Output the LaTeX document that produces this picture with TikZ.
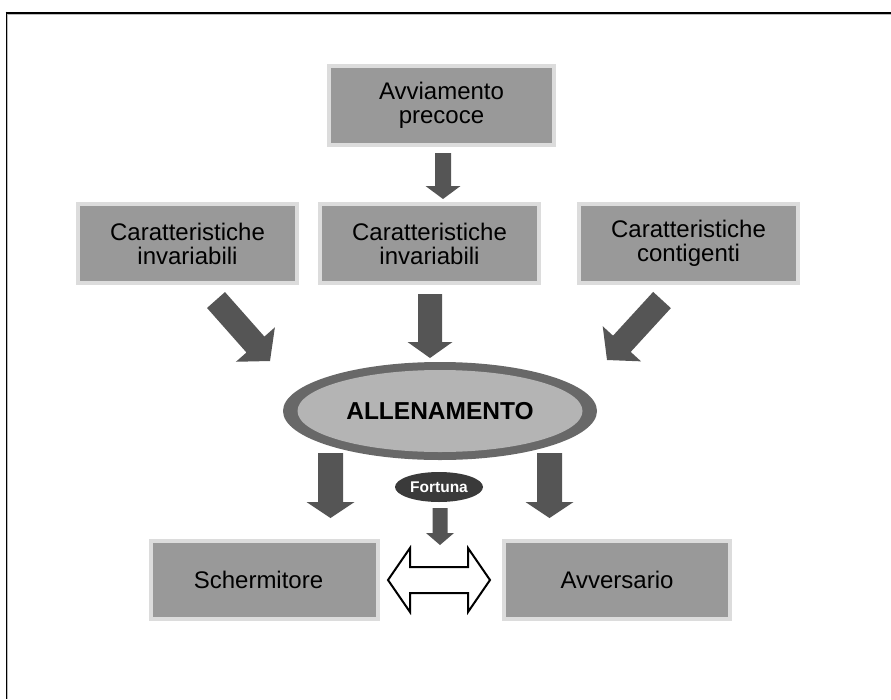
\documentclass[tikz,border=0pt]{standalone}
\usepackage{fontspec}
\setmainfont{Liberation Sans}
\usetikzlibrary{shapes.geometric,calc}

\definecolor{boxfill}{HTML}{999999}
\definecolor{boxedge}{HTML}{DCDCDC}
\definecolor{arrowfill}{HTML}{555555}
\definecolor{ringfill}{HTML}{686868}
\definecolor{corefill}{HTML}{B4B4B4}
\definecolor{luckfill}{HTML}{3A3A3A}
\definecolor{framegray}{HTML}{BBBBBB}

\tikzset{
  box/.style={rectangle, fill=boxfill, draw=boxedge, line width=4pt,
    minimum width=219pt, minimum height=79pt, inner sep=0pt, align=center,
    font=\fontsize{24}{24}\selectfont},
  lowbox/.style={box, minimum width=227pt, minimum height=78pt},
  fat/.style={fill=arrowfill},
  hollow/.style={draw=black, fill=white, line width=2pt, line join=miter},
}

% Solid block arrow: name, tail point, tip point, half shaft width,
% half head width, head length
\newcommand\blockarrow[6]{%
  \coordinate (#1-h) at ($(#3)!#6!(#2)$);
  \fill[fat] ($(#2)!#4!90:(#3)$) -- ($(#1-h)!#4!90:(#3)$)
    -- ($(#1-h)!#5!90:(#3)$) -- (#3)
    -- ($(#1-h)!#5!-90:(#3)$) -- ($(#1-h)!#4!-90:(#3)$)
    -- ($(#2)!#4!-90:(#3)$) -- cycle;
}

\begin{document}
\begin{tikzpicture}[x=1pt,y=-1pt]
  \useasboundingbox (0,0) rectangle (891,699);

  % frame lines along the top and left edge
  \draw[framegray, line width=1pt] (7.7,14) -- (891,14);
  \draw[framegray, line width=1pt] (7.7,14) -- (7.7,699);
  \draw[black, line width=1.8pt] (5.6,12.6) -- (891,12.6);
  \draw[black, line width=1.8pt] (6.5,11.7) -- (6.5,699);

  % boxes
  \node[box, minimum width=225pt] (early) at (441.5,105.5) {Avviamento\\precoce};
  \node[box] (fixedA) at (187.5,243.5) {Caratteristiche\\invariabili};
  \node[box] (fixedB) at (429.5,243.5) {Caratteristiche\\invariabili};
  \node[box] (contingent) at (688.5,243.5) {Caratteristiche\\contigenti};
  \node[lowbox] (fencer) at (264.5,580) {\hspace*{-12pt}Schermitore};
  \node[lowbox, minimum width=226pt] (opponent) at (617,580) {Avversario};

  % training ellipse
  \node[ellipse, fill=ringfill, minimum width=314pt, minimum height=98pt,
        inner sep=0pt] (training) at (440,411) {};
  \node[ellipse, fill=corefill, minimum width=285pt, minimum height=82pt,
        inner sep=0pt, font=\bfseries\fontsize{24.5}{25}\selectfont]
        (trainingcore) at (training.center) {ALLENAMENTO};

  % luck
  \node[ellipse, fill=luckfill, text=white, minimum width=88pt,
        minimum height=30pt, inner sep=0pt,
        font=\bfseries\fontsize{15.5}{16}\selectfont] (luck) at (439,487) {Fortuna};

  % arrow end points
  \coordinate (a1s) at (443,153);  \coordinate (a1e) at (443,199);
  \coordinate (a2s) at (216,300);  \coordinate (a2e) at (270,361);
  \coordinate (a3s) at (430,294);  \coordinate (a3e) at (430,358);
  \coordinate (a4s) at (662,300);  \coordinate (a4e) at (607,360);
  \coordinate (a5s) at (330.5,453); \coordinate (a5e) at (330.5,518);
  \coordinate (a6s) at (549.5,453); \coordinate (a6e) at (549.5,518);
  \coordinate (a7s) at (440,508);  \coordinate (a7e) at (440,545);

  \blockarrow{a1}{a1s}{a1e}{8pt}{17.5pt}{13pt}
  \blockarrow{a2}{a2s}{a2e}{12pt}{26pt}{22pt}
  \blockarrow{a3}{a3s}{a3e}{12pt}{22.5pt}{16pt}
  \blockarrow{a4}{a4s}{a4e}{12pt}{26pt}{22pt}
  \blockarrow{a5}{a5s}{a5e}{12.5pt}{24pt}{16pt}
  \blockarrow{a6}{a6s}{a6e}{12.5pt}{24pt}{16pt}
  \blockarrow{a7}{a7s}{a7e}{7.5pt}{14pt}{12pt}

  % two-way arrow between fencer and opponent
  \coordinate (dl) at ($(fencer.east)+(8,0)$);
  \coordinate (dr) at ($(opponent.west)+(-12,0)$);
  \draw[hollow] (dl) -- ($(dl)+(22,-32)$) -- ($(dl)+(22,-13)$)
    -- ($(dr)+(-22,-13)$) -- ($(dr)+(-22,-32)$) -- (dr)
    -- ($(dr)+(-22,32)$) -- ($(dr)+(-22,13)$)
    -- ($(dl)+(22,13)$) -- ($(dl)+(22,32)$) -- cycle;
\end{tikzpicture}
\end{document}
